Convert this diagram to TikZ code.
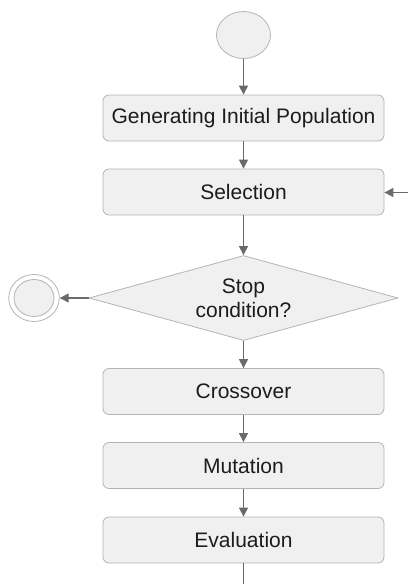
\documentclass[tikz,border=0pt]{standalone}
\usepackage{fontspec}
\setmainfont{Liberation Sans}
\usetikzlibrary{shapes.geometric,arrows.meta}
\definecolor{boxfill}{HTML}{F0F0F0}
\definecolor{boxline}{HTML}{B4B4B4}
\definecolor{arr}{HTML}{6A6A6A}
\definecolor{txt}{HTML}{1C1C1C}
\begin{document}
\begin{tikzpicture}[x=1pt,y=-1pt,
  stepbox/.style={draw=boxline,fill=boxfill,rounded corners=6pt,line width=0.8pt,
    minimum width=281pt,minimum height=46pt,inner sep=0pt,
    font=\fontsize{21}{24}\selectfont,text=txt},
  decbox/.style={draw=boxline,fill=boxfill,diamond,shape aspect=3.6,line width=0.8pt,inner sep=0pt,
    minimum width=309pt,minimum height=85pt,align=center,
    font=\fontsize{21}{24}\selectfont,text=txt},
  conn/.style={draw=arr,line width=1.3pt,-{Triangle[length=9pt,width=9pt]}},
  plain/.style={draw=arr,line width=1.3pt}]
\useasboundingbox (0,0) rectangle (408,584);
\node[draw=boxline,fill=boxfill,ellipse,line width=0.8pt,minimum width=54pt,minimum height=47pt,inner sep=0pt] (start) at (243.5,35) {};
\node[stepbox] (gip) at (243.5,118) {Generating Initial Population};
\node[stepbox] (sel) at (243.5,192) {Selection};
\node[decbox] (stop) at (243.5,298) {Stop\\condition?};
\node[draw=boxline,ellipse,line width=0.8pt,minimum width=50.6pt,minimum height=47pt,inner sep=0pt] (endo) at (34,298) {};
\node[draw=boxline,fill=boxfill,ellipse,line width=0.8pt,minimum width=40pt,minimum height=37pt,inner sep=0pt] (endi) at (34,298) {};
\node[stepbox] (cross) at (243.5,391.5) {Crossover};
\node[stepbox] (mut) at (243.5,465.5) {Mutation};
\node[stepbox] (eval) at (243.5,540) {Evaluation};
\coordinate (loopin) at (408,192.5);
\coordinate (loopout) at (243.5,584);
\draw[conn] (start) -- (gip);
\draw[conn] (gip) -- (sel);
\draw[conn] (loopin) -- (sel.east |- loopin);
\draw[conn] (sel) -- (stop.north);
\draw[conn] (stop.west) -- (endo.east);
\draw[conn] (stop.south) -- (cross);
\draw[conn] (cross) -- (mut);
\draw[conn] (mut) -- (eval);
\draw[plain] (eval) -- (loopout);
\end{tikzpicture}
\end{document}
